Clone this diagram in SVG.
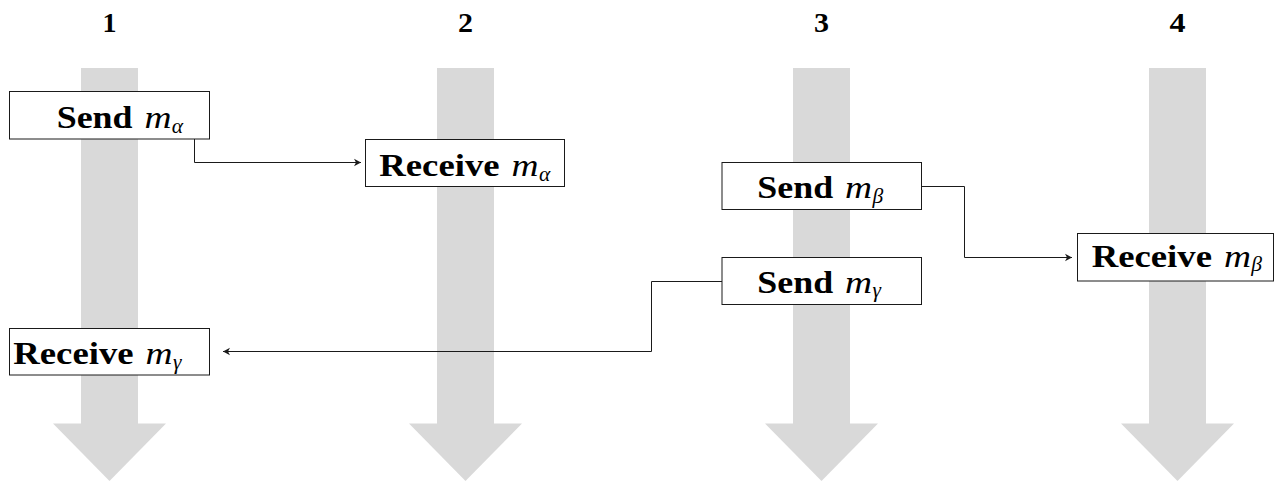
<svg xmlns="http://www.w3.org/2000/svg" width="1275" height="482" viewBox="0 0 1275 482">
<style>
.lane{fill:#d9d9d9;stroke:none}
.title{font-family:"Liberation Serif","Times New Roman",serif;font-weight:bold;font-size:27px;fill:#000;text-anchor:middle}
.box{fill:#fff;stroke:#1a1a1a;stroke-width:1}
.w{font-family:"Liberation Serif","Times New Roman",serif;font-weight:bold;font-size:31px;fill:#000}
.m{font-family:"Liberation Serif","Times New Roman",serif;font-style:italic;font-size:31px;fill:#000}
.s{font-family:"Liberation Serif","Times New Roman",serif;font-style:italic;font-size:21.5px;fill:#000}
.conn{fill:none;stroke:#1a1a1a;stroke-width:1}
</style>
<defs>
<marker id="arr" markerUnits="userSpaceOnUse" markerWidth="10" markerHeight="10" viewBox="-8 -5 10 10" refX="0" refY="0" orient="auto">
<path d="M0,0 L-7,-3.8 L-5,0 L-7,3.8 Z" fill="#1a1a1a"/>
</marker>
</defs>

<g id="lanes">
<g id="lane1"><rect class="lane" x="81" y="68" width="57" height="356"/><polygon class="lane" points="53,423.5 166,423.5 109.5,481"/></g>
<g id="lane2"><rect class="lane" x="437" y="68" width="57" height="356"/><polygon class="lane" points="409,423.5 522,423.5 465.5,481"/></g>
<g id="lane3"><rect class="lane" x="793" y="68" width="57" height="356"/><polygon class="lane" points="765,423.5 878,423.5 821.5,481"/></g>
<g id="lane4"><rect class="lane" x="1149" y="68" width="57" height="356"/><polygon class="lane" points="1121,423.5 1234,423.5 1177.5,481"/></g>
</g>

<g id="titles">
<text class="title" x="109.5" y="31.5" textLength="14" lengthAdjust="spacingAndGlyphs">1</text>
<text class="title" x="465.5" y="31.5" textLength="15" lengthAdjust="spacingAndGlyphs">2</text>
<text class="title" x="821.5" y="31.5" textLength="15" lengthAdjust="spacingAndGlyphs">3</text>
<text class="title" x="1177.5" y="31.5" textLength="16" lengthAdjust="spacingAndGlyphs">4</text>
</g>

<g id="connectors">
<path class="conn" d="M194.5,139 V162.5 H361" marker-end="url(#arr)"/>
<path class="conn" d="M922,186.5 H964.5 V257.5 H1072" marker-end="url(#arr)"/>
<path class="conn" d="M722,281.5 H651.5 V351.5 H223" marker-end="url(#arr)"/>
</g>

<g id="send-alpha">
<rect class="box" x="9.5" y="91.5" width="200" height="47.5"/>
<text class="w" x="56.7" y="128.3" textLength="75.8" lengthAdjust="spacingAndGlyphs">Send</text>
<text class="m" x="144.4" y="128.3" textLength="27" lengthAdjust="spacingAndGlyphs">m</text>
<text class="s" x="171.8" y="133">α</text>
</g>

<g id="receive-alpha">
<rect class="box" x="365.5" y="139.5" width="199" height="47"/>
<text class="w" x="379.3" y="176" textLength="120.3" lengthAdjust="spacingAndGlyphs">Receive</text>
<text class="m" x="511.5" y="176" textLength="27" lengthAdjust="spacingAndGlyphs">m</text>
<text class="s" x="538.9" y="180.7">α</text>
</g>

<g id="send-beta">
<rect class="box" x="722" y="162.5" width="199.5" height="47"/>
<text class="w" x="757.3" y="198.3" textLength="75.8" lengthAdjust="spacingAndGlyphs">Send</text>
<text class="m" x="845" y="198.3" textLength="27" lengthAdjust="spacingAndGlyphs">m</text>
<text class="s" x="872.4" y="203">β</text>
</g>

<g id="receive-beta">
<rect class="box" x="1077.5" y="233.5" width="196" height="47.5"/>
<text class="w" x="1091.7" y="266.5" textLength="120.3" lengthAdjust="spacingAndGlyphs">Receive</text>
<text class="m" x="1223.9" y="266.5" textLength="27" lengthAdjust="spacingAndGlyphs">m</text>
<text class="s" x="1251.3" y="271.2">β</text>
</g>

<g id="send-gamma">
<rect class="box" x="722" y="257.5" width="199.5" height="47"/>
<text class="w" x="757.3" y="292.7" textLength="75.8" lengthAdjust="spacingAndGlyphs">Send</text>
<text class="m" x="845" y="292.7" textLength="27" lengthAdjust="spacingAndGlyphs">m</text>
<text class="s" x="872.4" y="297.4">γ</text>
</g>

<g id="receive-gamma">
<rect class="box" x="9.5" y="328.5" width="200" height="46.5"/>
<text class="w" x="13.3" y="364" textLength="120.3" lengthAdjust="spacingAndGlyphs">Receive</text>
<text class="m" x="145.5" y="364" textLength="27" lengthAdjust="spacingAndGlyphs">m</text>
<text class="s" x="172.9" y="368.7">γ</text>
</g>
</svg>
